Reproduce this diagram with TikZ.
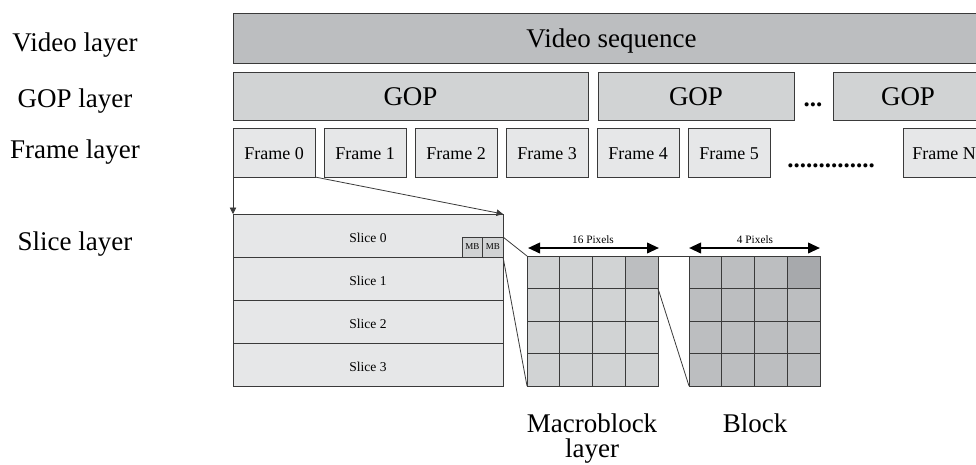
\documentclass[tikz,border=0pt]{standalone}
\usepackage{fontspec}
\setmainfont{Liberation Serif}
\usetikzlibrary{arrows.meta}
\definecolor{lineC}{HTML}{3A3A3A}
\definecolor{vidC}{HTML}{BCBEC0}
\definecolor{gopC}{HTML}{D1D3D4}
\definecolor{frmC}{HTML}{E6E7E8}
\definecolor{mbC}{HTML}{D1D3D4}
\definecolor{mbdC}{HTML}{BCBEC0}
\definecolor{blkC}{HTML}{BCBEC0}
\definecolor{blkdC}{HTML}{A7A9AC}
\tikzset{
  boxbase/.style={draw=lineC, line width=0.9pt, inner sep=0pt, outer sep=0pt},
  vidbox/.style={boxbase, fill=vidC, minimum height=50pt, font=\fontsize{27}{32}\selectfont, text height=18pt, text depth=0pt},
  gopbox/.style={boxbase, fill=gopC, minimum height=48pt, font=\fontsize{27}{32}\selectfont, text height=18pt, text depth=0pt},
  frmbox/.style={boxbase, fill=frmC, minimum width=82pt, minimum height=49pt, font=\fontsize{18}{22}\selectfont, text height=14pt, text depth=0pt},
  slicebox/.style={boxbase, fill=frmC, minimum width=270pt, minimum height=43pt, font=\fontsize{13.5}{16}\selectfont, text height=13pt, text depth=0pt},
  mbbox/.style={boxbase, fill=mbC, minimum width=20.5pt, minimum height=20pt, font=\fontsize{9}{10}\selectfont},
  gridbox/.style={boxbase, minimum width=131pt, minimum height=130pt},
  cellbox/.style={boxbase, minimum width=32.75pt, minimum height=32.5pt},
  layerlbl/.style={font=\fontsize{27}{32}\selectfont, anchor=base},
  pixlbl/.style={font=\fontsize{11.3}{13}\selectfont, anchor=base},
  dotlbl/.style={font=\fontsize{25}{30}\selectfont\bfseries, anchor=base},
  conn/.style={draw=lineC, line width=0.8pt},
  zoomarrow/.style={conn, -{Triangle[length=6.5pt,width=6.5pt]}},
  pixarrow/.style={draw=black, line width=2.2pt, {Triangle[length=12pt,width=10.5pt]}-{Triangle[length=12pt,width=10.5pt]}}
}
\begin{document}
\begin{tikzpicture}[x=1pt,y=-1pt]
\useasboundingbox (0,0) rectangle (976,464);
\clip (0,0) rectangle (976,464);
% left labels
\node[layerlbl] (lv) at (75,51) {Video layer};
\node[layerlbl] (lg) at (75,107) {GOP layer};
\node[layerlbl] (lf) at (75,158) {Frame layer};
\node[layerlbl] (ls) at (75,250) {Slice layer};
% video
\node[vidbox, minimum width=757pt] (vid) at (611.5,38) {Video sequence};
% GOPs
\node[gopbox, minimum width=355pt] (gop1) at (410.5,96) {GOP};
\node[gopbox, minimum width=196pt] (gop2) at (696,96) {GOP};
\node[gopbox, minimum width=150pt] (gop3) at (908,96) {GOP};
\node[dotlbl] (gdots) at (813,106) {...};
% frames
\node[frmbox] (f0) at (274,152.5) {Frame 0};
\node[frmbox] (f1) at (365,152.5) {Frame 1};
\node[frmbox] (f2) at (456,152.5) {Frame 2};
\node[frmbox] (f3) at (547,152.5) {Frame 3};
\node[frmbox] (f4) at (638,152.5) {Frame 4};
\node[frmbox] (f5) at (729,152.5) {Frame 5};
\node[frmbox] (fn) at (944,152.5) {Frame N};
\node[dotlbl] (fdots) at (831,167) {..............};
% slices
\node[slicebox] (s0) at (368,235.5) {Slice 0};
\node[slicebox] (s1) at (368,278.5) {Slice 1};
\node[slicebox] (s2) at (368,321.5) {Slice 2};
\node[slicebox] (s3) at (368,364.5) {Slice 3};
\node[mbbox] (mb1) at (472.25,247) {MB};
\node[mbbox] (mb2) at (492.75,247) {MB};
% arrows frame -> slice
\draw[zoomarrow] (f0.south west) -- (s0.north west);
\draw[zoomarrow] (f0.south east) -- (s0.north east);
% macroblock grid
\node[gridbox, fill=mbC] (mbg) at (592.5,321) {};
\foreach \i in {0,...,3}{
  \foreach \j in {0,...,3}{
    \node[cellbox, fill=mbC] (m-\i-\j) at ({527+32.75*(\j+0.5)},{256+32.5*(\i+0.5)}) {};
  }
}
\node[cellbox, fill=mbdC] (m-0-3) at ({527+32.75*3.5},{256+32.5*0.5}) {};
% block grid
\node[gridbox, fill=blkC] (blg) at (754.5,321) {};
\foreach \i in {0,...,3}{
  \foreach \j in {0,...,3}{
    \node[cellbox, fill=blkC] (b-\i-\j) at ({689+32.75*(\j+0.5)},{256+32.5*(\i+0.5)}) {};
  }
}
\node[cellbox, fill=blkdC] (b-0-3) at ({689+32.75*3.5},{256+32.5*0.5}) {};
% zoom lines
\draw[conn] (mb2.north east) -- (mbg.north west);
\draw[conn] (mb2.south east) -- (mbg.south west);
\draw[conn] (m-0-3.north east) -- (blg.north west);
\draw[conn] (m-0-3.south east) -- (blg.south west);
% pixel arrows
\coordinate (pa1) at (528,248);
\coordinate (pa2) at (659,248);
\coordinate (pb1) at (689,248);
\coordinate (pb2) at (820,248);
\draw[pixarrow] (pa1) -- (pa2);
\draw[pixarrow] (pb1) -- (pb2);
\node[pixlbl] (px16) at (593,243.5) {16 Pixels};
\node[pixlbl] (px4) at (755,243.5) {4 Pixels};
% bottom labels
\node[layerlbl] (lmb) at (592,432) {Macroblock};
\node[layerlbl] (lmb2) at (592,457) {layer};
\node[layerlbl] (lbl) at (755,432) {Block};
\end{tikzpicture}
\end{document}
